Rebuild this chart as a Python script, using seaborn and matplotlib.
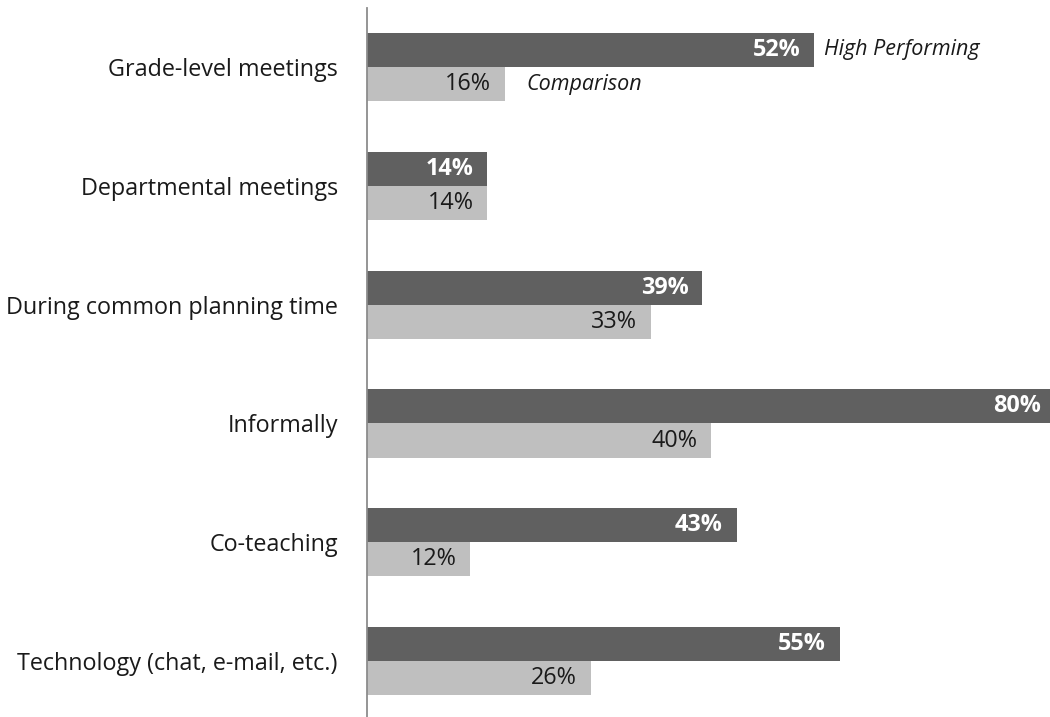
import matplotlib
matplotlib.use("Agg")
import matplotlib.pyplot as plt
import seaborn as sns
import pandas as pd

categories = [
    "Grade-level meetings",
    "Departmental meetings",
    "During common planning time",
    "Informally",
    "Co-teaching",
    "Technology (chat, e-mail, etc.)",
]
high_performing = [52, 14, 39, 80, 43, 55]
comparison = [16, 14, 33, 40, 12, 26]
series_names = ["High Performing", "Comparison"]

df = pd.DataFrame({
    "category": categories * 2,
    "value": high_performing + comparison,
    "group": [series_names[0]] * len(categories) + [series_names[1]] * len(categories),
})

sns.set_theme(style="white")
plt.rcParams["font.family"] = ["Open Sans", "DejaVu Sans"]

fig = plt.figure(figsize=(10.5, 7.17), dpi=100)
ax = fig.add_axes([0.3495, 0.0, 0.6505, 0.9894])

palette = {series_names[0]: "#606060", series_names[1]: "#bfbfbf"}
sns.barplot(data=df, y="category", x="value", hue="group", order=categories,
            hue_order=series_names, palette=palette, orient="h", width=0.575,
            saturation=1, ax=ax, legend=False, edgecolor="none")

ax.set_xlim(0, 79.4)
ax.set_ylim(5.47, -0.5)
ax.set_xlabel("")
ax.set_ylabel("")
ax.set_xticks([])
ax.tick_params(axis="y", length=0, pad=21, labelsize=16.8, labelcolor="#1a1a1a")
for s in ["top", "right", "bottom"]:
    ax.spines[s].set_visible(False)
ax.spines["left"].set_color("#8c8c8c")
ax.spines["left"].set_linewidth(1.3)

# value labels inside the bar ends
for container, color, weight in zip(ax.containers, ["white", "#1a1a1a"], ["bold", "normal"]):
    for bar in container:
        w = bar.get_width()
        y = bar.get_y() + bar.get_height() / 2
        ax.annotate(f"{w:.0f}%", xy=(w, y), xytext=(-10, 0), textcoords="offset points",
                    ha="right", va="center", color=color, fontweight=weight, fontsize=16.8,
                    annotation_clip=False)

# series names beside the first pair of bars
hp_bar = ax.containers[0][0]
cmp_bar = ax.containers[1][0]
ax.annotate(series_names[0], xy=(hp_bar.get_width(), hp_bar.get_y() + hp_bar.get_height() / 2),
            xytext=(7, 0), textcoords="offset points", ha="left", va="center",
            fontstyle="italic", fontsize=15.5, color="#1a1a1a", annotation_clip=False)
ax.annotate(series_names[1], xy=(cmp_bar.get_width(), cmp_bar.get_y() + cmp_bar.get_height() / 2),
            xytext=(16, 0), textcoords="offset points", ha="left", va="center",
            fontstyle="italic", fontsize=15.5, color="#1a1a1a", annotation_clip=False)

fig.savefig("out.png", dpi=100)
